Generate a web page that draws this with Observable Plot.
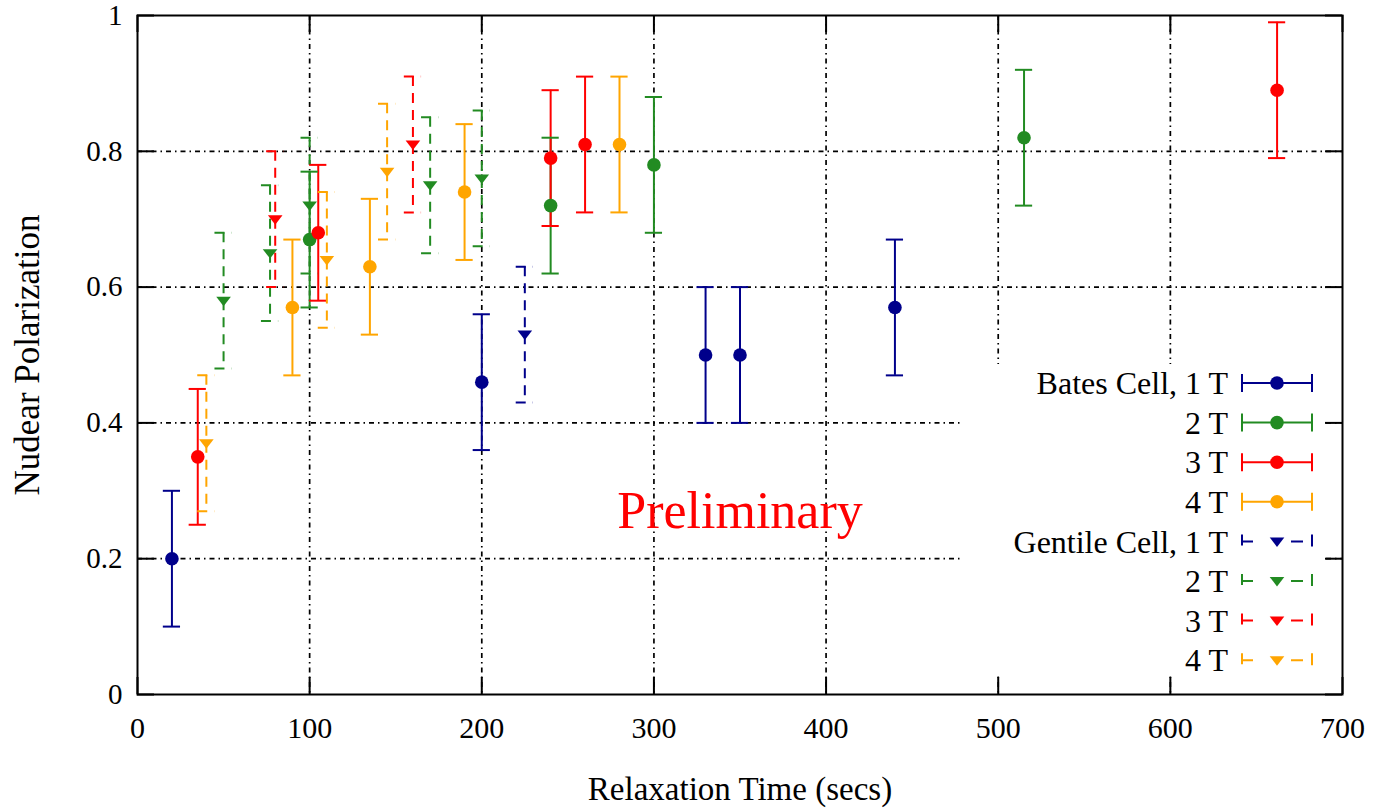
<!DOCTYPE html>
<html>
<head>
<meta charset="utf-8">
<script src="https://cdn.jsdelivr.net/npm/d3@7"></script>
<script src="https://cdn.jsdelivr.net/npm/@observablehq/plot@0.6"></script>
<style>
  body { margin: 0; background: #fff; }
  #wrap { position: relative; width: 1375px; height: 810px; }
  #legend { position: absolute; left: 963px; top: 364px; overflow: visible; }
</style>
</head>
<body>
<div id="wrap"></div>
<script>
// ---------- axis ticks & labels ----------
const xTicks = [0, 100, 200, 300, 400, 500, 600, 700];
const yTicks = [0, 0.2, 0.4, 0.6, 0.8, 1];
const xGrid = [100, 200, 300, 400, 500, 600];
const yGrid = [0.2, 0.4, 0.6, 0.8];
const xLabel = "Relaxation Time (secs)";
const yLabel = "Nudear Polarization";
const noteText = ["Preliminary"];
const noteX = [350];
const noteY = [0.27];

// ---------- series ----------
const seriesLabels = ["Bates Cell, 1 T", "2 T", "3 T", "4 T", "Gentile Cell, 1 T", "2 T", "3 T", "4 T"];
const seriesColors = ["#00008b", "#228b22", "#ff0000", "#ffa500", "#00008b", "#228b22", "#ff0000", "#ffa500"];
const seriesKind = ["bates", "bates", "bates", "bates", "gentile", "gentile", "gentile", "gentile"];

// Bates cell (solid error bars, circles)
const bates1Time = [20, 200, 330, 350, 440];
const bates1Pol  = [0.20, 0.46, 0.50, 0.50, 0.57];
const bates1Err  = [0.10, 0.10, 0.10, 0.10, 0.10];

const bates2Time = [100, 240, 300, 515];
const bates2Pol  = [0.67, 0.72, 0.78, 0.82];
const bates2Err  = [0.10, 0.10, 0.10, 0.10];

const bates3Time = [35, 105, 240, 260, 662];
const bates3Pol  = [0.35, 0.68, 0.79, 0.81, 0.89];
const bates3Err  = [0.10, 0.10, 0.10, 0.10, 0.10];

const bates4Time = [90, 135, 190, 280];
const bates4Pol  = [0.57, 0.63, 0.74, 0.81];
const bates4Err  = [0.10, 0.10, 0.10, 0.10];

// Gentile cell (dashed error bars, down triangles)
const gentile1Time = [225];
const gentile1Pol  = [0.53];
const gentile1Err  = [0.10];

const gentile2Time = [50, 77, 100, 170, 200];
const gentile2Pol  = [0.58, 0.65, 0.72, 0.75, 0.76];
const gentile2Err  = [0.10, 0.10, 0.10, 0.10, 0.10];

const gentile3Time = [80, 160];
const gentile3Pol  = [0.70, 0.81];
const gentile3Err  = [0.10, 0.10];

const gentile4Time = [40, 110, 145];
const gentile4Pol  = [0.37, 0.64, 0.77];
const gentile4Err  = [0.10, 0.10, 0.10];

const allTimes = [bates1Time, bates2Time, bates3Time, bates4Time, gentile1Time, gentile2Time, gentile3Time, gentile4Time];
const allPols  = [bates1Pol, bates2Pol, bates3Pol, bates4Pol, gentile1Pol, gentile2Pol, gentile3Pol, gentile4Pol];
const allErrs  = [bates1Err, bates2Err, bates3Err, bates4Err, gentile1Err, gentile2Err, gentile3Err, gentile4Err];

// ---------- build table ----------
const rows = [];
allTimes.forEach((times, i) => {
  times.forEach((t, j) => {
    rows.push({
      series: i, kind: seriesKind[i], color: seriesColors[i],
      x: t, y: allPols[i][j], lo: allPols[i][j] - allErrs[i][j], hi: allPols[i][j] + allErrs[i][j]
    });
  });
});
const solid = rows.filter(d => d.kind === "bates");
const dashed = rows.filter(d => d.kind === "gentile");
const capHalf = 5; // in x units

const triDown = {
  draw(ctx, size) {
    const r = Math.sqrt(size / Math.PI);
    ctx.moveTo(-r, -0.55 * r);
    ctx.lineTo(r, -0.55 * r);
    ctx.lineTo(0, 0.75 * r);
    ctx.closePath();
  }
};

const gridStyle = {stroke: "black", strokeWidth: 1.7, strokeDasharray: "5,4,1.5,4"};
const dashPattern = "10,7";

const W = 1375, H = 810, ML = 137, MR = 33, MT = 15, MB = 116;
const FW = W - ML - MR, FH = H - MT - MB;
const tickLen = 17;

const chart = Plot.plot({
  width: W, height: H,
  marginLeft: ML, marginRight: MR, marginTop: MT, marginBottom: MB,
  style: {fontFamily: "'Liberation Serif', 'DejaVu Serif', serif", fontSize: "30px", background: "white", color: "black", overflow: "visible"},
  x: {domain: [0, 700]},
  y: {domain: [0, 1]},
  color: {type: "identity"},
  marks: [
    Plot.ruleY(yGrid, {y: d => d, ...gridStyle}),
    Plot.ruleX(xGrid, {x: d => d, ...gridStyle}),
    // inward ticks on all four sides
    Plot.tickX(xTicks, {x: d => d, insetTop: FH - tickLen, stroke: "black", strokeWidth: 2}),
    Plot.tickX(xTicks, {x: d => d, insetBottom: FH - tickLen, stroke: "black", strokeWidth: 2}),
    Plot.tickY(yTicks, {y: d => d, insetRight: FW - tickLen, stroke: "black", strokeWidth: 2}),
    Plot.tickY(yTicks, {y: d => d, insetLeft: FW - tickLen, stroke: "black", strokeWidth: 2}),
    Plot.frame({stroke: "black", strokeWidth: 2}),
    Plot.axisX({ticks: xTicks, tickSize: 0, tickPadding: 22, fontSize: 30, label: null}),
    Plot.axisY({ticks: yTicks, tickSize: 0, tickPadding: 15, fontSize: 29, tickFormat: d3.format("~g"), label: null}),
    Plot.text([xLabel], {text: d => d, frameAnchor: "bottom", lineAnchor: "middle", textAnchor: "middle", dy: 95, fontSize: 33}),
    Plot.text([yLabel], {text: d => d, frameAnchor: "left", textAnchor: "middle", lineAnchor: "middle", dx: -110, rotate: -90, fontSize: 35}),
    // solid error bars (Bates)
    Plot.ruleX(solid, {x: "x", y1: "hi", y2: "lo", stroke: "color", strokeWidth: 2}),
    Plot.ruleY(solid, {y: "hi", x1: d => d.x - capHalf, x2: d => d.x + capHalf, stroke: "color", strokeWidth: 2}),
    Plot.ruleY(solid, {y: "lo", x1: d => d.x - capHalf, x2: d => d.x + capHalf, stroke: "color", strokeWidth: 2}),
    // dashed error bars (Gentile)
    Plot.ruleX(dashed, {x: "x", y1: "hi", y2: "lo", stroke: "color", strokeWidth: 2, strokeDasharray: dashPattern}),
    Plot.ruleY(dashed, {y: "hi", x1: d => d.x - capHalf, x2: d => d.x + capHalf, stroke: "color", strokeWidth: 2, strokeDasharray: dashPattern}),
    Plot.ruleY(dashed, {y: "lo", x1: d => d.x - capHalf, x2: d => d.x + capHalf, stroke: "color", strokeWidth: 2, strokeDasharray: dashPattern}),
    // markers
    Plot.dot(solid, {x: "x", y: "y", fill: "color", r: 6.8, symbol: "circle"}),
    Plot.dot(dashed, {x: "x", y: "y", fill: "color", r: 7.3, symbol: triDown}),
    // annotation
    Plot.text(noteText, {x: (d, i) => noteX[i], y: (d, i) => noteY[i], text: d => d, fill: "#ff0000", fontSize: 52})
  ]
});

const wrap = document.getElementById("wrap");
wrap.appendChild(chart);

// ---------- legend (opaque box like gnuplot key) ----------
const LW = 361, LH = 312;
const legend = d3.select(wrap).append("svg")
  .attr("id", "legend").attr("width", LW).attr("height", LH)
  .style("font-family", "'Liberation Serif', 'DejaVu Serif', serif");
legend.append("rect").attr("width", LW).attr("height", LH).attr("fill", "white");

const rowY0 = 19, rowStep = 39.6;
const textRight = 265, sx0 = 279, sx1 = 349, sxc = 314;
seriesLabels.forEach((lab, i) => {
  const y = rowY0 + i * rowStep;
  const c = seriesColors[i];
  const g = legend.append("g");
  g.append("text").attr("x", textRight).attr("y", y).attr("dy", "0.35em")
    .attr("text-anchor", "end").attr("font-size", 32).attr("fill", "black").text(lab);
  if (seriesKind[i] === "bates") {
    g.append("path").attr("d", `M${sx0},${y}H${sx1}M${sx0},${y - 9}V${y + 9}M${sx1},${y - 9}V${y + 9}`)
      .attr("stroke", c).attr("stroke-width", 2).attr("fill", "none");
    g.append("circle").attr("cx", sxc).attr("cy", y).attr("r", 6.8).attr("fill", c);
  } else {
    g.append("path").attr("d", `M${sx0},${y - 7}V${y + 4}M${sx0},${y}H${sx0 + 11}M${sx0 + 49},${y}H${sx0 + 61}M${sx1},${y - 7}V${y + 5}`)
      .attr("stroke", c).attr("stroke-width", 2).attr("fill", "none");
    const r = 7.3;
    g.append("path").attr("d", `M${sxc - r},${y - 0.55 * r}L${sxc + r},${y - 0.55 * r}L${sxc},${y + 0.75 * r}Z`).attr("fill", c);
  }
});
</script>
</body>
</html>
